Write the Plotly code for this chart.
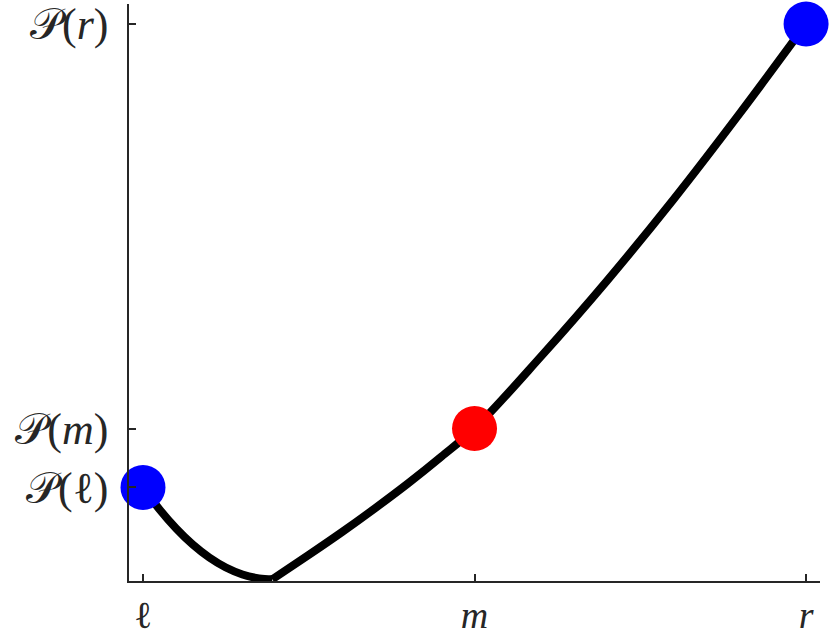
import plotly.graph_objects as go

# curve left of the kink (from l down to the minimum)
x_left = [0.0, 0.025, 0.05, 0.075, 0.10, 0.125, 0.15, 0.175, 0.195]
y_left = [0.1655, 0.1257, 0.0915, 0.0626, 0.0393, 0.0213, 0.0088, 0.0017, 0.0]

# curve right of the kink (from the minimum up to r)
x_right = [0.195, 0.25, 0.30, 0.35, 0.40, 0.45, 0.50, 0.60, 0.70, 0.80, 0.90, 1.0]
y_right = [0.0, 0.044, 0.085, 0.128, 0.173, 0.221, 0.2716, 0.401, 0.538, 0.684, 0.839, 1.0]

# highlighted points
end_x = [0.0, 1.0]
end_y = [0.1655, 1.0]
mid_x = [0.5]
mid_y = [0.2716]

x_ticks = [0.0, 0.5, 1.0]
x_labels = ["ℓ", "<i>m</i>", "<i>r</i>"]
y_ticks = [0.1655, 0.2716, 1.0]
y_labels = ["𝒫(ℓ)", "𝒫(<i>m</i>)", "𝒫(<i>r</i>)"]

axis_col = "#262626"
y_font = dict(family="Liberation Serif, DejaVu Serif, serif", size=44, color="#262626")
x_font = dict(family="Liberation Serif, DejaVu Serif, serif", size=38, color="#262626")

fig = go.Figure()
for xs, ys in [(x_left, y_left), (x_right, y_right)]:
    fig.add_trace(go.Scatter(x=xs, y=ys, mode="lines", line=dict(color="black", width=8, shape="spline"),
                             hoverinfo="skip"))
fig.add_trace(go.Scatter(x=end_x, y=end_y, mode="markers", cliponaxis=False,
                         marker=dict(color="#0000ff", size=45, line=dict(width=0))))
fig.add_trace(go.Scatter(x=mid_x, y=mid_y, mode="markers", cliponaxis=False,
                         marker=dict(color="#ff0000", size=45, line=dict(width=0))))

axis_common = dict(showgrid=False, zeroline=False, showline=True, linecolor=axis_col, linewidth=1.5,
                   ticks="inside", ticklen=7, tickwidth=1.5, tickcolor=axis_col, automargin=False)
fig.update_xaxes(range=[-0.0211, 1.021], tickvals=x_ticks, ticktext=x_labels, ticklabelstandoff=0,
                 tickfont=x_font, **axis_common)
fig.update_yaxes(range=[-0.003, 1.036], tickvals=y_ticks, ticktext=y_labels, ticklabelstandoff=10,
                 tickfont=y_font, **axis_common)

fig.update_layout(
    width=830, height=639,
    margin=dict(l=129, r=10, t=4, b=58),
    plot_bgcolor="white", paper_bgcolor="white",
    showlegend=False,
)

# drop the page's default body margin so the figure sits at the top-left corner
fig.write_html("out.html", config={"displayModeBar": False},
               post_script="document.body.style.margin='0';")
